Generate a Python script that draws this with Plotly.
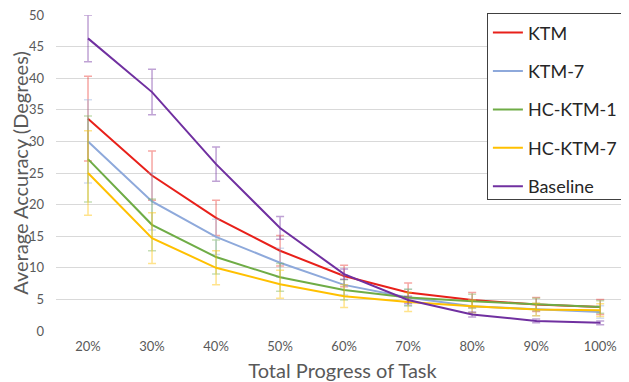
import plotly.graph_objects as go

categories = ["20%", "30%", "40%", "50%", "60%", "70%", "80%", "90%", "100%"]

ktm = [33.6, 24.6, 17.9, 12.7, 8.7, 6.1, 4.9, 4.2, 3.8]
ktm_err = [6.7, 3.9, 2.8, 2.4, 1.7, 1.5, 1.2, 1.1, 1.2]

ktm7 = [30.0, 20.5, 14.9, 10.8, 7.3, 5.3, 3.9, 3.4, 3.0]
ktm7_err = [6.6, 4.5, 2.8, 2.3, 1.6, 1.3, 1.0, 1.0, 1.0]

hc1 = [27.2, 16.8, 11.7, 8.5, 6.5, 5.3, 4.7, 4.2, 3.8]
hc1_err = [6.8, 4.1, 2.7, 2.2, 1.6, 1.3, 1.1, 1.0, 1.0]

hc7 = [25.0, 14.7, 10.0, 7.4, 5.5, 4.6, 3.9, 3.4, 3.3]
hc7_err = [6.7, 4.0, 2.7, 2.2, 1.8, 1.5, 1.0, 1.0, 1.0]

baseline = [46.3, 37.8, 26.4, 16.3, 9.0, 4.9, 2.6, 1.6, 1.3]
baseline_err = [3.7, 3.6, 2.7, 1.8, 0.8, 0.6, 0.4, 0.3, 0.3]

series = [
    ("KTM", ktm, ktm_err, "#E8201A", "rgba(232,32,26,0.4)"),
    ("KTM-7", ktm7, ktm7_err, "#8EA9DB", "rgba(142,169,219,0.4)"),
    ("HC-KTM-1", hc1, hc1_err, "#6FAC46", "rgba(111,172,70,0.4)"),
    ("HC-KTM-7", hc7, hc7_err, "#FFC000", "rgba(255,192,0,0.45)"),
    ("Baseline", baseline, baseline_err, "#7030A0", "rgba(112,48,160,0.45)"),
]

fig = go.Figure()
for name, vals, err, col, ecol in series:
    fig.add_trace(go.Scatter(
        x=categories, y=vals, name=name, mode="lines",
        line=dict(color=col, width=2),
        legendgroup=name,
        error_y=dict(type="data", array=err, visible=True,
                     color=ecol, thickness=1.5, width=4),
    ))

font_family = "Lato, Open Sans, sans-serif"
# page body has an 8px default margin, so the figure is sized to fit inside it
fig.update_layout(
    width=621, height=374,
    margin=dict(l=48, r=0, t=7, b=51),
    paper_bgcolor="white", plot_bgcolor="white",
    font=dict(family=font_family, color="#595959"),
    xaxis=dict(
        range=[-0.5, 8.45], showgrid=False, zeroline=False, showline=False,
        automargin=False,
        tickfont=dict(size=13, color="#595959"), ticklabelstandoff=6,
        title=dict(text="Total Progress of Task", font=dict(size=20, color="#595959"), standoff=11),
        ticks="",
    ),
    yaxis=dict(
        range=[0, 50], dtick=5, showgrid=True, gridcolor="#D9D9D9", gridwidth=1,
        zeroline=False, showline=False, automargin=False, ticklabeloverflow="allow",
        tickfont=dict(size=13, color="#595959"), ticks="", ticklabelstandoff=11,
        title=dict(text="Average Accuracy (Degrees)", font=dict(size=20, color="#595959"), standoff=2),
    ),
    legend=dict(
        x=0.752, y=1.005, xanchor="left", yanchor="top", xref="paper", yref="paper",
        bgcolor="white", bordercolor="#404040", borderwidth=1,
        font=dict(size=18, color="#262626", family=font_family),
        tracegroupgap=12, itemwidth=30,
    ),
    showlegend=True,
)

fig.write_html("out.html")
